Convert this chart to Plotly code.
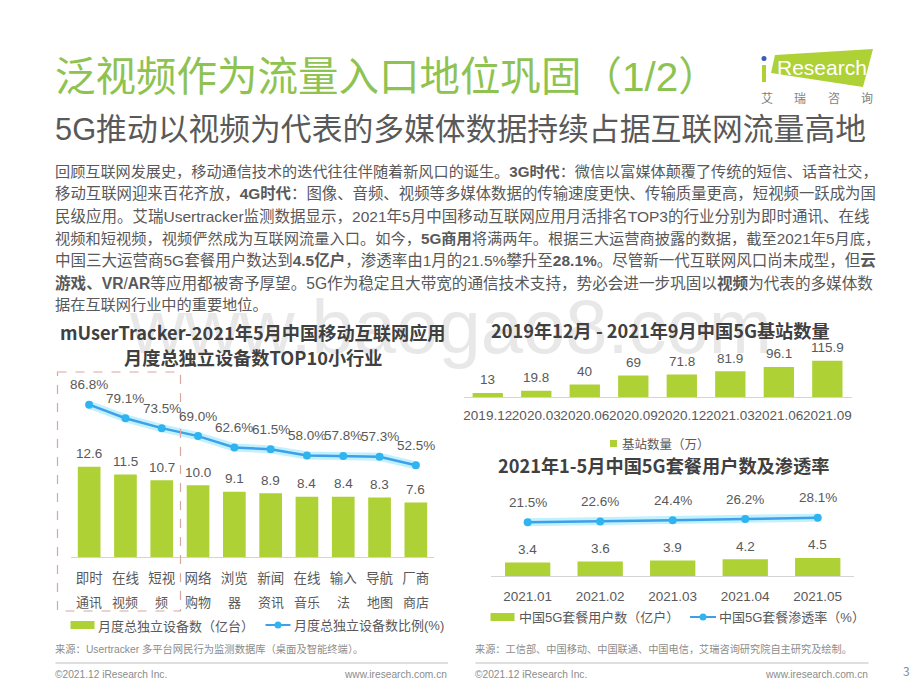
import plotly.graph_objects as go

# 月活 TOP10 小行业
industry_line1 = ['即时', '在线', '短视', '网络', '浏览', '新闻', '在线', '输入', '导航', '厂商']
industry_line2 = ['通讯', '视频', '频', '购物', '器', '资讯', '音乐', '法', '地图', '商店']
device_counts = [12.6, 11.5, 10.7, 10.0, 9.1, 8.9, 8.4, 8.4, 8.3, 7.6]
device_ratio = [86.8, 79.1, 73.5, 69.0, 62.6, 61.5, 58.0, 57.8, 57.3, 52.5]

# 5G 基站数量
station_months = ['2019.12', '2020.03', '2020.06', '2020.09', '2020.12', '2021.03', '2021.06', '2021.09']
station_counts = [13, 19.8, 40, 69, 71.8, 81.9, 96.1, 115.9]

# 5G 套餐用户数及渗透率
plan_months = ['2021.01', '2021.02', '2021.03', '2021.04', '2021.05']
plan_users = [3.4, 3.6, 3.9, 4.2, 4.5]
plan_rate = [21.5, 22.6, 24.4, 26.2, 28.1]

body_lines = [
    '回顾互联网发展史，移动通信技术的迭代往往伴随着新风口的诞生。<b>3G时代</b>：微信以富媒体颠覆了传统的短信、话音社交，',
    '移动互联网迎来百花齐放，<b>4G时代</b>：图像、音频、视频等多媒体数据的传输速度更快、传输质量更高，短视频一跃成为国',
    '民级应用。艾瑞Usertracker监测数据显示，2021年5月中国移动互联网应用月活排名TOP3的行业分别为即时通讯、在线',
    '视频和短视频，视频俨然成为互联网流量入口。如今，<b>5G商用</b>将满两年。根据三大运营商披露的数据，截至2021年5月底，',
    '中国三大运营商5G套餐用户数达到<b>4.5亿户</b>，渗透率由1月的21.5%攀升至<b>28.1%</b>。尽管新一代互联网风口尚未成型，但<b>云</b>',
    '<b>游戏、VR</b>/<b>AR</b>等应用都被寄予厚望。5G作为稳定且大带宽的通信技术支持，势必会进一步巩固以<b>视频</b>为代表的多媒体数',
    '据在互联网行业中的重要地位。',
]
# 原图正文两端对齐，这里逐行微调字号来对齐行尾
body_sizes = [15.15, 15.4, 15.5, 15.25, 15.5, 15.6, 15.2]

W, H = 920, 690
FONT = 'Noto Sans CJK SC'
LATIN = 'Liberation Sans, Noto Sans CJK SC'
GREEN = '#aed136'
BLUE = '#3f9fe8'
DOT = '#2fb4f0'
GLOW = 'rgba(130,228,255,0.5)'
TEXT = '#595959'


def px(x):
    return x / W


def py(y):
    return 1 - y / H


annotations = []
shapes = []


def label(x, y, text, size=13, color=TEXT, anchor='center', family=FONT):
    annotations.append(dict(x=px(x), y=py(y), xref='paper', yref='paper', text=text, showarrow=False,
                            xanchor=anchor, yanchor='middle', align=anchor, borderpad=0,
                            font=dict(size=size, color=color, family=family)))


def value_label(xref, yref, x, y, text, yshift):
    annotations.append(dict(x=x, y=y, xref=xref, yref=yref, text=text, showarrow=False, yshift=yshift,
                            xanchor='center', yanchor='middle', borderpad=0,
                            font=dict(size=13.5, color=TEXT, family=LATIN)))


def box(x0, y0, x1, y1, color):
    shapes.append(dict(type='rect', xref='paper', yref='paper', x0=px(x0), x1=px(x1), y0=py(y0), y1=py(y1),
                       fillcolor=color, line=dict(width=0)))


def rule(x0, y0, x1, y1, color, width):
    shapes.append(dict(type='line', xref='paper', yref='paper', x0=px(x0), x1=px(x1), y0=py(y0), y1=py(y1),
                       line=dict(color=color, width=width)))


def line_key(x0, x1, y):
    rule(x0, y, x1, y, BLUE, 2)
    xc = (x0 + x1) / 2
    shapes.append(dict(type='circle', xref='paper', yref='paper', x0=px(xc - 3.5), x1=px(xc + 3.5),
                       y0=py(y + 3.5), y1=py(y - 3.5), fillcolor=DOT, line=dict(width=0)))


fig = go.Figure()


def bars(x, y, xa, ya):
    fig.add_trace(go.Bar(x=x, y=y, xaxis=xa, yaxis=ya, marker=dict(color=GREEN, line=dict(width=0)),
                         width=0.625, showlegend=False, hoverinfo='skip'))


def rate_line(x, y, xa, ya):
    # 底下一条加粗的浅色线做发光效果
    fig.add_trace(go.Scatter(x=x, y=y, xaxis=xa, yaxis=ya, mode='lines', line=dict(color=GLOW, width=8),
                             showlegend=False, hoverinfo='skip'))
    fig.add_trace(go.Scatter(x=x, y=y, xaxis=xa, yaxis=ya, mode='lines+markers', line=dict(color=BLUE, width=2.5),
                             marker=dict(color=DOT, size=8), showlegend=False, hoverinfo='skip'))


def x_axis(x0, x1, anchor, cats, ticktext, standoff):
    # 类别名是 2019.12 这种数字样式的字符串，range 和 categoryarray 都要写明
    return dict(domain=[px(x0), px(x1)], anchor=anchor, type='category', showgrid=False, zeroline=False,
                categoryorder='array', categoryarray=cats, range=[-0.5, len(cats) - 0.5],
                showline=True, linecolor='#d4d4d4', linewidth=1, ticks='', ticklabelstandoff=standoff,
                tickangle=0, tickmode='array', tickvals=list(range(len(cats))), ticktext=ticktext,
                tickfont=dict(size=13.5, color=TEXT, family=LATIN), fixedrange=True)


def y_axis(y_top, y_base, rng, **kw):
    return dict(domain=[py(y_base), py(y_top)], range=rng, visible=False, fixedrange=True, **kw)


# 水印
label(450, 326, 'www.baogao8.com', size=76, color='#e8e8e8', family=LATIN)

# 标题
label(54, 77, '泛视频作为流量入口地位巩固（1/2）', size=40.5, color='#8fc351', anchor='left', family=LATIN)
label(54, 130, '5G推动以视频为代表的多媒体数据持续占据互联网流量高地', size=30.8, color=TEXT, anchor='left', family=LATIN)

# logo
shapes.append(dict(type='path', xref='paper', yref='paper', fillcolor=GREEN, line=dict(width=0),
                   path=f'M{px(775)},{py(55)} L{px(873)},{py(49)} L{px(863)},{py(87)} L{px(771)},{py(73)} Z'))
box(762, 65, 766, 82, GREEN)
shapes.append(dict(type='circle', xref='paper', yref='paper', x0=px(761.5), x1=px(766.5), y0=py(61), y1=py(56),
                   fillcolor='#3b5bb5', line=dict(width=0)))
label(776, 68, 'Research', size=21, color='white', anchor='left', family=LATIN)
for cx, ch in zip([767, 800, 834, 867], ['艾', '瑞', '咨', '询']):
    label(cx, 97, ch, size=12, color='#7f7f7f')

# 正文
for i, line in enumerate(body_lines):
    label(54, 171.5 + i * 22.2, line, size=body_sizes[i], anchor='left', family=LATIN)

# 图1
cats1 = [a + b for a, b in zip(industry_line1, industry_line2)]
bars(cats1, device_counts, 'x', 'y')
rate_line(cats1, device_ratio, 'x', 'y2')
for i, v in enumerate(device_counts):
    value_label('x', 'y', i, v, f'{v:.1f}', 13)
for i, v in enumerate(device_ratio):
    value_label('x', 'y2', i, v, f'{v:.1f}%', 20)
for i, t in enumerate(industry_line2):
    annotations.append(dict(x=i, y=py(601), xref='x', yref='paper', text=t, showarrow=False, xanchor='center',
                            yanchor='middle', font=dict(size=13, color=TEXT, family=FONT)))
label(253, 332, '<b>mUserTracker-2021年5月中国移动互联网应用</b>', size=18.2, color='#404040')
label(253, 357, '<b>月度总独立设备数TOP10小行业</b>', size=18.2, color='#404040')
shapes.append(dict(type='rect', xref='paper', yref='paper', x0=px(57.5), x1=px(180.5), y0=py(372), y1=py(611),
                   line=dict(color='#d9a6a0', width=1.2, dash='dash')))
box(70.5, 621, 94.5, 629, GREEN)
label(97, 625, '月度总独立设备数（亿台）', size=13, anchor='left')
line_key(265.5, 290.5, 625)
label(293, 625, '月度总独立设备数比例(%)', size=13, anchor='left', family=LATIN)
label(54, 648.5, '来源：Usertracker 多平台网民行为监测数据库（桌面及智能终端）。', size=10.3, color='#8c8c8c', anchor='left', family=LATIN)

# 图2
bars(station_months, station_counts, 'x2', 'y3')
for i, v in enumerate(station_counts):
    value_label('x2', 'y3', i, v, str(v), 13)
label(660, 330, '<b>2019年12月 - 2021年9月中国5G基站数量</b>', size=18.2, color='#404040')
box(610, 440, 617, 447, GREEN)
label(621, 443.5, '基站数量（万）', size=12.5, anchor='left')

# 图3
bars(plan_months, plan_users, 'x3', 'y4')
rate_line(plan_months, plan_rate, 'x3', 'y5')
for i, v in enumerate(plan_users):
    value_label('x3', 'y4', i, v, f'{v:.1f}', 13)
for i, v in enumerate(plan_rate):
    value_label('x3', 'y5', i, v, f'{v:.1f}%', 20)
label(663, 465, '<b>2021年1-5月中国5G套餐用户数及渗透率</b>', size=18.2, color='#404040')
box(490.5, 613, 514.5, 621, GREEN)
label(518, 617, '中国5G套餐用户数（亿户）', size=13, anchor='left', family=LATIN)
line_key(690, 716, 617)
label(718, 617, '中国5G套餐渗透率（%）', size=13, anchor='left', family=LATIN)
label(474, 648.5, '来源：工信部、中国移动、中国联通、中国电信，艾瑞咨询研究院自主研究及绘制。', size=10.2, color='#8c8c8c', anchor='left')

# 页脚
rule(55.5, 663, 448, 663, '#bfbfbf', 1)
rule(475.5, 663, 868.5, 663, '#bfbfbf', 1)
for x0, x1 in [(54, 448), (474, 869)]:
    label(x0, 674.5, '©2021.12 iResearch Inc.', size=10.2, color='#8c8c8c', anchor='left', family=LATIN)
    label(x1, 674.5, 'www.iresearch.com.cn', size=10.2, color='#8c8c8c', anchor='right', family=LATIN)
label(906.5, 670, '3', size=12, color='#8c8c8c')

fig.update_layout(
    width=W, height=H, autosize=False, margin=dict(l=0, r=0, t=0, b=0, autoexpand=False),
    paper_bgcolor='white', plot_bgcolor='rgba(0,0,0,0)', showlegend=False, barmode='overlay',
    xaxis=x_axis(71, 434, 'y', cats1, industry_line1, 9),
    yaxis=y_axis(370, 557, [0, 26.08]),
    yaxis2=y_axis(370, 557, [0.6, 106.4], overlaying='y'),
    xaxis2=x_axis(463.5, 851.6, 'y3', station_months, station_months, 6),
    yaxis3=y_axis(340, 397, [0, 182]),
    xaxis3=x_axis(491.4, 854, 'y4', plan_months, plan_months, 7),
    yaxis4=y_axis(500, 576.3, [0, 18.7]),
    yaxis5=y_axis(500, 576.3, [-55.6, 53.4], overlaying='y4'),
    annotations=annotations, shapes=shapes,
)
fig.write_html('out.html', config=dict(displayModeBar=False),
               post_script="document.body.style.margin='0';")
